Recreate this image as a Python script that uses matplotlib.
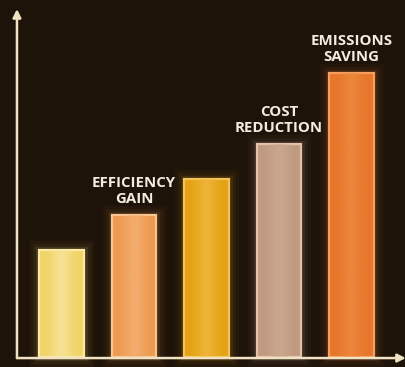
import matplotlib.pyplot as plt
import matplotlib.colors as mcolors
import numpy as np

# ── Data ────────────────────────────────────────────────
positions = [0, 1, 2, 3, 4]
values    = [1.5, 2.0, 2.5, 3.0, 4.0]
labels    = ["", "EFFICIENCY\nGAIN", "", "COST\nREDUCTION", "EMISSIONS\nSAVING"]
colors    = ["#f1d468", "#ee9a50", "#e5a216", "#c09a80", "#e8762a"]
edges     = ["#fbeaa6", "#f8c690", "#f4c45a", "#e2c4ac", "#f4a060"]
centers   = ["#f8e6a0", "#f4b378", "#f0ba40", "#ccab92", "#ee8a40"]

BG = "#1d1309"

fig = plt.figure(figsize=(4.06, 3.67), dpi=100, facecolor=BG)
ax = fig.add_axes([0, 0, 1, 1])
ax.set_facecolor(BG)
ax.set_xlim(-0.848, 4.752)
ax.set_ylim(-0.141, 5.028)
ax.axis("off")

BAR_W = 0.62

# glow
for lw, a in [(14, 0.04), (9, 0.06), (5, 0.10)]:
    ax.bar(positions, values, width=BAR_W, color="none",
           edgecolor=colors, linewidth=lw, alpha=a, zorder=1)

# main bars
bars = ax.bar(positions, values, width=BAR_W, color=colors,
              edgecolor=edges, linewidth=1.6, zorder=2)

# soft lighter centre, clipped to each bar
u = np.linspace(-1, 1, 60)
profile = np.exp(-(u / 0.45) ** 2)
for rect, c in zip(bars, centers):
    rgba = np.zeros((2, len(u), 4))
    rgba[..., :3] = mcolors.to_rgb(c)
    rgba[..., 3] = 0.75 * profile
    x0, y0 = rect.get_x(), rect.get_y()
    im = ax.imshow(rgba, extent=(x0, x0 + rect.get_width(), y0, y0 + rect.get_height()),
                   aspect="auto", interpolation="bilinear", zorder=3)
    im.set_clip_path(rect)

# labels
for x, v, lab in zip(positions, values, labels):
    if lab:
        ax.text(x, v + 0.13, lab, ha="center", va="bottom",
                color="#f4ece0", fontsize=10.8, fontweight="bold",
                family="Open Sans", linespacing=1.15, zorder=4)

# axes with arrows
ax_x = -0.614
ax.annotate("", xy=(ax_x, 4.9), xytext=(ax_x, -0.015),
            arrowprops=dict(arrowstyle="-|>", color="#f2e2c4", lw=1.8,
                            mutation_scale=12, shrinkA=0, shrinkB=0), zorder=5)
ax.annotate("", xy=(4.75, -0.015), xytext=(ax_x, -0.015),
            arrowprops=dict(arrowstyle="-|>", color="#f2e2c4", lw=1.8,
                            mutation_scale=12, shrinkA=0, shrinkB=0), zorder=5)

ax.set_xlim(-0.848, 4.752)
ax.set_ylim(-0.141, 5.028)

fig.savefig("out.png", dpi=100, facecolor=BG)
